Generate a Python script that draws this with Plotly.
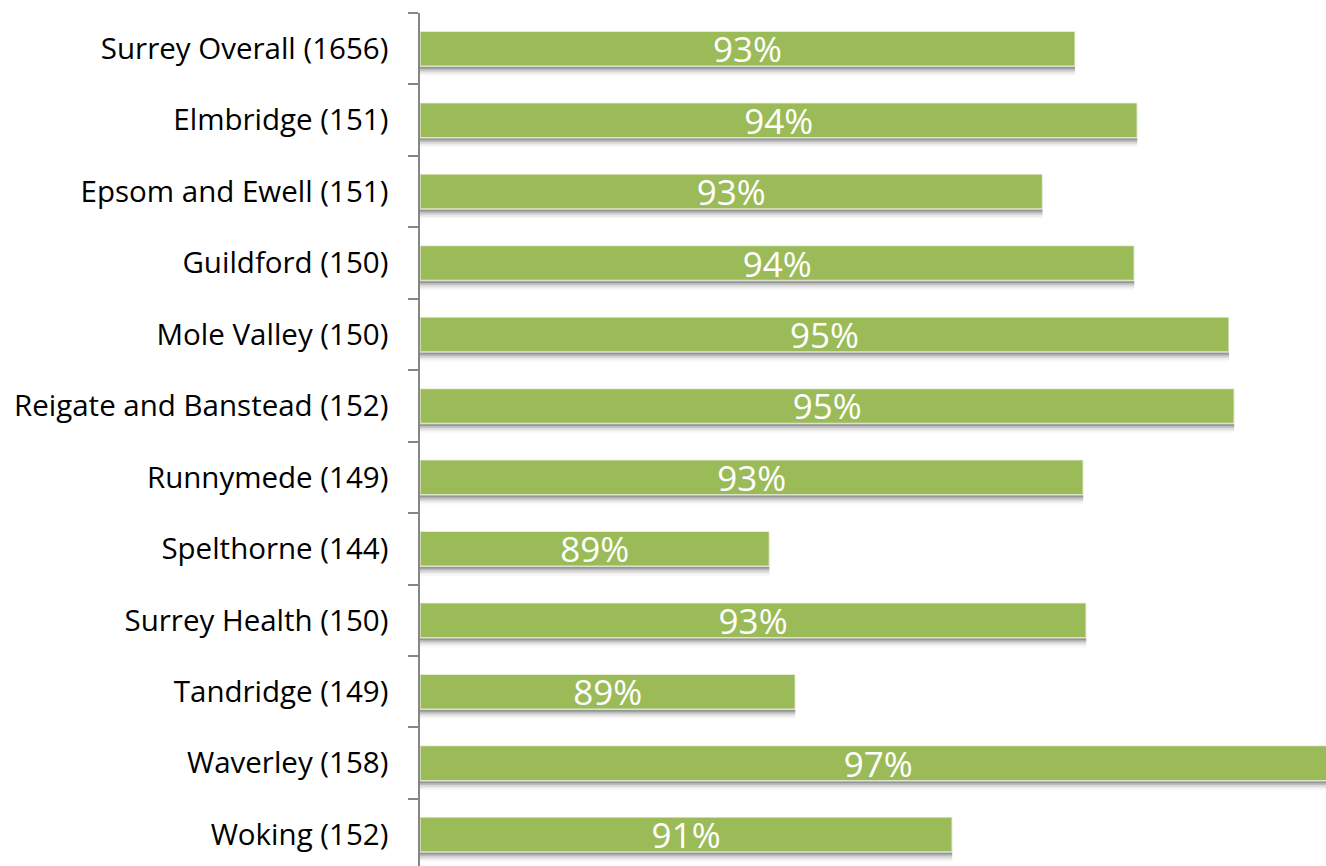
import plotly.graph_objects as go

categories = [
    "Surrey Overall (1656)", "Elmbridge (151)", "Epsom and Ewell (151)",
    "Guildford (150)", "Mole Valley (150)", "Reigate and Banstead (152)",
    "Runnymede (149)", "Spelthorne (144)", "Surrey Health (150)",
    "Tandridge (149)", "Waverley (158)", "Woking (152)",
]
values = [93.05, 93.89, 92.61, 93.85, 95.13, 95.20, 93.16, 88.92, 93.20, 89.27, 96.58, 91.39]
AXIS_MIN = 84.2
AXIS_MAX = 96.44

BAR_COLOR = "#9BBB59"
BAR_W = 0.49
lengths = [v - AXIS_MIN for v in values]
labels = [f"{v:.0f}%" for v in values]

fig = go.Figure()

# soft drop shadow under each bar
for dy, alpha in [(0.035, 0.20), (0.06, 0.13), (0.085, 0.08), (0.11, 0.05), (0.135, 0.025)]:
    fig.add_trace(go.Bar(
        x=lengths, y=categories, base=AXIS_MIN, orientation="h",
        width=BAR_W, offset=-BAR_W / 2 + dy,
        marker=dict(color=f"rgba(0,0,0,{alpha})", line=dict(width=0)),
        hoverinfo="skip", showlegend=False,
    ))

fig.add_trace(go.Bar(
    x=lengths, y=categories, base=AXIS_MIN, orientation="h",
    width=BAR_W,
    marker=dict(color=BAR_COLOR, line=dict(color="rgba(255,255,255,0.65)", width=1.5)),
    text=labels, texttemplate="%{text}",
    textposition="inside", insidetextanchor="middle",
    textangle=0, constraintext="none",
    textfont=dict(family="Open Sans", size=35, color="white"),
    showlegend=False,
))

fig.update_layout(
    width=1326, height=866,
    margin=dict(l=420, r=0, t=13, b=0, autoexpand=False),
    plot_bgcolor="white", paper_bgcolor="white",
    barmode="overlay",
    xaxis=dict(range=[AXIS_MIN, AXIS_MAX], visible=False, showgrid=False, zeroline=False),
    yaxis=dict(
        categoryorder="array", categoryarray=categories,
        range=[11.44, -0.5], automargin=False,
        showline=True, linecolor="#868686", linewidth=1.5,
        ticks="outside", ticklen=10, tickwidth=1.5, tickcolor="#868686",
        tickson="boundaries", showgrid=False,
        ticklabelstandoff=24,
        tickfont=dict(family="Open Sans", size=29.5, color="black"),
    ),
)

fig.write_html(
    "out.html",
    config={"displayModeBar": False},
    post_script="document.body.style.margin='0';document.body.style.overflow='hidden';",
)
